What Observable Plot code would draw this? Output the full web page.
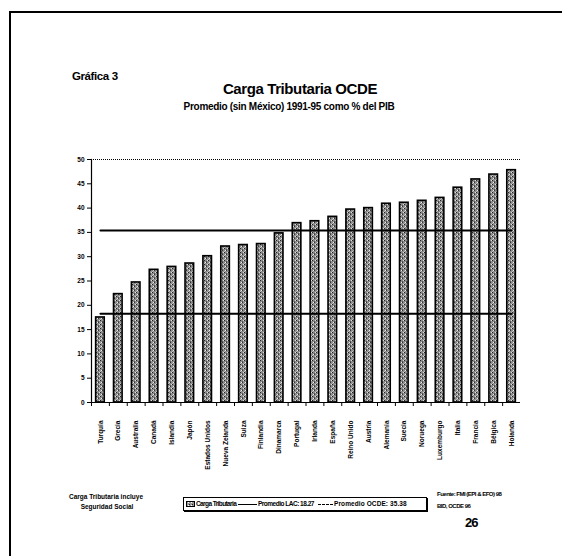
<!DOCTYPE html>
<html><head><meta charset="utf-8">
<script src="https://cdn.jsdelivr.net/npm/d3@7"></script>
<script src="https://cdn.jsdelivr.net/npm/@observablehq/plot@0.6"></script>
<style>
body{margin:0;background:#fff;}
#page{position:relative;width:562px;height:556px;overflow:hidden;font-family:"Liberation Sans",Arial,sans-serif;font-weight:bold;color:#000;background:#fff;}
.abs{position:absolute;white-space:nowrap;line-height:1;}
#frame{position:absolute;left:9px;top:11px;width:570px;height:570px;border-top:2px solid #000;border-left:2px solid #000;}
#legend{position:absolute;left:183px;top:497px;width:242px;height:12px;border:1px solid #000;box-shadow:1px 1px 0 #000;font-size:6.5px;}
#legend .abs{top:3px;}
#legend .ln{position:absolute;top:5.5px;height:0;border-top:1.5px solid #000;}
#chart{position:absolute;left:0;top:140px;}
</style></head><body>
<div id="page">
  <div id="frame"></div>
  <div class="abs" style="left:72px;top:71px;font-size:11.5px;letter-spacing:-0.4px;">Gráfica 3</div>
  <div class="abs" style="left:300px;top:81px;font-size:15px;transform:translateX(-50%);letter-spacing:-0.4px;">Carga Tributaria OCDE</div>
  <div class="abs" style="left:289px;top:102px;font-size:10px;transform:translateX(-50%);letter-spacing:-0.3px;">Promedio (sin México) 1991-95 como % del PIB</div>
  <div id="chart"></div>
  <div class="abs" style="left:106px;top:494px;font-size:6.5px;transform:translateX(-50%);">Carga Tributaria incluye</div>
  <div class="abs" style="left:107px;top:504px;font-size:6.5px;transform:translateX(-50%);">Seguridad Social</div>
  <div id="legend">
    <svg style="position:absolute;left:2px;top:2.5px" width="9" height="6"><rect x="0.5" y="0.5" width="8" height="5" fill="url(#speckL)" stroke="#000"/>
      <defs><pattern id="speckL" width="3" height="3" patternUnits="userSpaceOnUse"><rect width="3" height="3" fill="#999"/><rect width="1" height="1" fill="#222"/><rect x="2" y="1" width="1" height="1" fill="#fff"/></pattern></defs></svg>
    <span class="abs" style="left:12px;letter-spacing:-0.6px;">Carga Tributaria</span>
    <span class="ln" style="left:54px;width:19px;"></span>
    <span class="abs" style="left:74px;letter-spacing:-0.5px;">Promedio LAC: 18.27</span>
    <span class="ln" style="left:134px;width:15px;border-top:1px dashed #000;"></span>
    <span class="abs" style="left:150px;letter-spacing:0.1px;">Promedio OCDE: 35.38</span>
  </div>
  <div class="abs" style="left:437px;top:491px;font-size:6px;letter-spacing:-0.5px;">Fuente: FMI (EPI &amp; EFO) 98</div>
  <div class="abs" style="left:437px;top:503px;font-size:6px;letter-spacing:-0.5px;">BID, OCDE 96</div>
  <div class="abs" style="left:465px;top:516px;font-size:13px;letter-spacing:-1px;">26</div>
</div>
<script>
const countries = ["Turquía","Grecia","Australia","Canadá","Islandia","Japón","Estados Unidos","Nueva Zelanda","Suiza","Finlandia","Dinamarca","Portugal","Irlanda","España","Reino Unido","Austria","Alemania","Suecia","Noruega","Luxemburgo","Italia","Francia","Bélgica","Holanda"];
const cargaTributaria = [17.5,22.3,24.7,27.3,27.9,28.6,30.1,32.1,32.4,32.6,34.8,36.9,37.3,38.2,39.7,40.0,40.9,41.1,41.5,42.1,44.2,45.9,46.9,47.8];
const promedioLAC = 18.27;
const promedioOCDE = 35.38;
const yTicks = [0,5,10,15,20,25,30,35,40,45,50];

const data = countries.map((c, i) => ({pais: c, valor: cargaTributaria[i]}));
const first = countries[0], last = countries[countries.length - 1];
const avgLines = [
  {serie: "LAC", pais: first, v: promedioLAC}, {serie: "LAC", pais: last, v: promedioLAC},
  {serie: "OCDE", pais: first, v: promedioOCDE}, {serie: "OCDE", pais: last, v: promedioOCDE}
];

const W = 562, H = 350, ML = 91, MR = 42;
const step = (W - ML - MR) / countries.length;

const chart = Plot.plot({
  width: W, height: H,
  marginLeft: ML, marginRight: MR, marginTop: 19, marginBottom: 88,
  style: {fontFamily: "'Liberation Sans', Arial, sans-serif", fontSize: "6.5px", fontWeight: "bold", background: "transparent", color: "#000", overflow: "visible"},
  x: {type: "band", domain: countries, paddingInner: 0.52, paddingOuter: 0.26, round: false, label: null},
  y: {domain: [0, 50], label: null},
  marks: [
    Plot.ruleY([50], {stroke: "#000", strokeWidth: 1, strokeDasharray: "1,1"}),
    Plot.barY(data, {x: "pais", y: "valor", fill: "url(#speck)", stroke: "#000", strokeWidth: 1.6}),
    Plot.lineY(avgLines, {x: "pais", y: "v", z: "serie", stroke: "#000", strokeWidth: 2}),
    Plot.ruleY([0], {stroke: "#000", strokeWidth: 1.2}),
    Plot.frame({anchor: "left", stroke: "#000", strokeWidth: 1.2}),
    Plot.axisY({ticks: yTicks, tickSize: 4, tickPadding: 3, tickFormat: d => String(d), label: null, fontSize: 6.5, fontWeight: "bold"}),
    Plot.axisX({tickSize: 4, tickFormat: () => "", dx: -step / 2, label: null}),
    Plot.text(countries, {x: d => d, y: 0, dy: 18, rotate: -90, textAnchor: "end", lineAnchor: "middle", fontSize: 6.5, fontWeight: "bold", fill: "#000"})
  ]
});

const ns = "http://www.w3.org/2000/svg";
const defs = document.createElementNS(ns, "defs");
defs.innerHTML = `<pattern id="speck" width="4" height="4" patternUnits="userSpaceOnUse">
  <rect width="4" height="4" fill="#8c8c8c"/>
  <rect x="0" y="0" width="1" height="1" fill="#222"/>
  <rect x="2" y="2" width="1" height="1" fill="#333"/>
  <rect x="3" y="0" width="1" height="1" fill="#ddd"/>
  <rect x="1" y="2" width="1" height="1" fill="#eee"/>
  <rect x="2" y="1" width="1" height="1" fill="#555"/>
  <rect x="0" y="3" width="1" height="1" fill="#bbb"/>
</pattern>`;
chart.insertBefore(defs, chart.firstChild);
document.getElementById("chart").appendChild(chart);
</script>
</body></html>
